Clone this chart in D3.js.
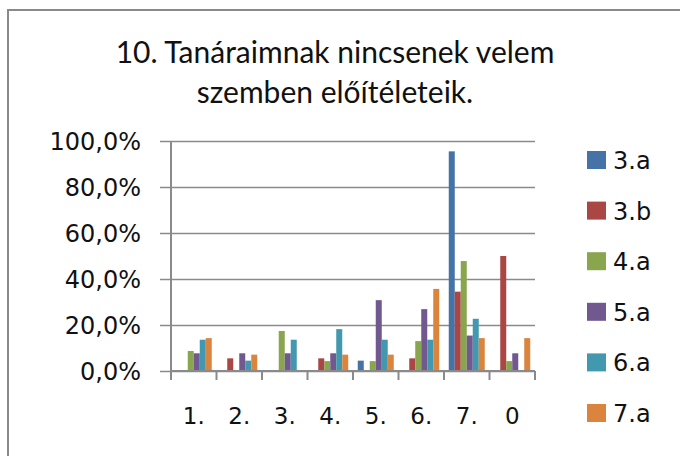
<!DOCTYPE html>
<html>
<head>
<meta charset="utf-8">
<script src="https://cdn.jsdelivr.net/npm/d3@7"></script>
<style>
  body { margin: 0; background: #fff; }
  svg { display: block; }
</style>
</head>
<body>
<div id="chart"></div>
<script>
// survey chart: share of answers per class

var categories = ["1.", "2.", "3.", "4.", "5.", "6.", "7.", "0"];
var seriesNames = ["3.a", "3.b", "4.a", "5.a", "6.a", "7.a"];
var seriesColors = ["#4572A7", "#AA4643", "#89A54E", "#71588F", "#4198AF", "#DB843D"];

// percent values
var s3a = [0, 0, 0, 0, 4.5, 0, 95.5, 0];
var s3b = [0, 5.5, 0, 5.5, 0, 5.5, 34.5, 50.0];
var s4a = [8.7, 0, 17.4, 4.3, 4.3, 13.0, 47.8, 4.3];
var s5a = [7.7, 7.7, 7.7, 7.7, 30.8, 26.9, 15.4, 7.7];
var s6a = [13.6, 4.5, 13.6, 18.2, 13.6, 13.6, 22.7, 0];
var s7a = [14.3, 7.1, 0, 7.1, 7.1, 35.7, 14.3, 14.3];
var yTicks = [0, 0.2, 0.4, 0.6, 0.8, 1.0];

var titleLines = ["10. Tanáraimnak nincsenek velem", "szemben előítéleteik."];

var allSeries = [s3a, s3b, s4a, s5a, s6a, s7a];

var width = 680, height = 456;
var plot = {left: 171, right: 535, top: 141, bottom: 371};

var svg = d3.select("#chart").append("svg")
  .attr("width", width)
  .attr("height", height);

// outer chart border (only left and top visible in the crop)
svg.append("path")
  .attr("d", "M8,456 V10 H680")
  .attr("fill", "none")
  .attr("stroke", "#8a8a8a")
  .attr("stroke-width", 2);

// title
svg.append("g").selectAll("text")
  .data(titleLines)
  .enter().append("text")
    .attr("x", 335)
    .attr("y", function(d, i) { return 63 + i * 40; })
    .attr("text-anchor", "middle")
    .attr("font-family", "Lato, 'Open Sans', sans-serif")
    .attr("font-size", 30)
    .attr("fill", "#111")
    .text(function(d) { return d; });

var locale = d3.formatLocale({decimal: ",", thousands: " ", grouping: [3], currency: ["", ""]});
var pct = locale.format(".1%");

var y = d3.scaleLinear().domain([0, 1]).range([plot.bottom, plot.top]);
var x0 = d3.scaleBand().domain(categories).range([plot.left, plot.right])
  .paddingInner(0.209).paddingOuter(0.1045);
var x1 = d3.scaleBand().domain(seriesNames).range([0, x0.bandwidth()]);
var color = d3.scaleOrdinal().domain(seriesNames).range(seriesColors);

// gridlines + y axis
svg.append("g")
  .attr("transform", "translate(" + plot.left + ",0)")
  .call(d3.axisLeft(y)
    .tickValues(yTicks)
    .tickSize(-(plot.right - plot.left))
    .tickFormat(""))
  .call(function(g) {
    g.select(".domain").remove();
    g.selectAll(".tick line")
      .attr("stroke", "#8a8a8a")
      .attr("stroke-width", 1.5)
      .attr("x1", -11);
  });

var yLabels = svg.append("g").selectAll("text")
  .data(yTicks)
  .enter().append("text")
    .attr("x", 141)
    .attr("y", function(d) { return y(d) + 8.5; })
    .attr("text-anchor", "end")
    .attr("font-family", "'DejaVu Sans', sans-serif")
    .attr("font-size", 24)
    .attr("fill", "#111")
    .text(function(d) { return pct(d); });

// bars
var groups = svg.append("g").selectAll("g")
  .data(categories)
  .enter().append("g")
    .attr("transform", function(d) { return "translate(" + x0(d) + ",0)"; });

groups.selectAll("rect")
  .data(function(d, ci) {
    return seriesNames.map(function(s, si) { return {name: s, value: allSeries[si][ci] / 100}; });
  })
  .enter().append("rect")
    .attr("x", function(d) { return x1(d.name); })
    .attr("width", x1.bandwidth())
    .attr("y", function(d) { return y(d.value); })
    .attr("height", function(d) { return y(0) - y(d.value); })
    .attr("fill", function(d) { return color(d.name); });

// axes lines
var boundaries = categories.map(function(c) {
  return x0(c) - (x0.step() - x0.bandwidth()) / 2;
});
boundaries.push(plot.right);

svg.append("line")
  .attr("x1", plot.left).attr("x2", plot.left)
  .attr("y1", plot.top).attr("y2", plot.bottom + 9)
  .attr("stroke", "#8a8a8a").attr("stroke-width", 2);

svg.append("line")
  .attr("x1", plot.left).attr("x2", plot.right)
  .attr("y1", y(0)).attr("y2", y(0))
  .attr("stroke", "#8a8a8a").attr("stroke-width", 2);

svg.append("g").selectAll("line")
  .data(boundaries)
  .enter().append("line")
    .attr("x1", function(d) { return d; })
    .attr("x2", function(d) { return d; })
    .attr("y1", y(0))
    .attr("y2", y(0) + 9)
    .attr("stroke", "#8a8a8a")
    .attr("stroke-width", 2);

svg.append("g").selectAll("text")
  .data(categories)
  .enter().append("text")
    .attr("x", function(d) { return x0(d) + x0.bandwidth() / 2; })
    .attr("y", 424)
    .attr("text-anchor", "middle")
    .attr("font-family", "'DejaVu Sans', sans-serif")
    .attr("font-size", 23)
    .attr("fill", "#111")
    .text(function(d) { return d; });

// legend
var legend = svg.append("g").selectAll("g")
  .data(seriesNames)
  .enter().append("g")
    .attr("transform", function(d, i) { return "translate(587," + (160 + i * 50.6) + ")"; });

legend.append("rect")
  .attr("x", 0)
  .attr("y", -9)
  .attr("width", 19)
  .attr("height", 18)
  .attr("fill", function(d) { return color(d); });

legend.append("text")
  .attr("x", 26)
  .attr("y", 9)
  .attr("font-family", "'DejaVu Sans', sans-serif")
  .attr("font-size", 24)
  .attr("fill", "#111")
  .text(function(d) { return d; });
</script>
</body>
</html>
